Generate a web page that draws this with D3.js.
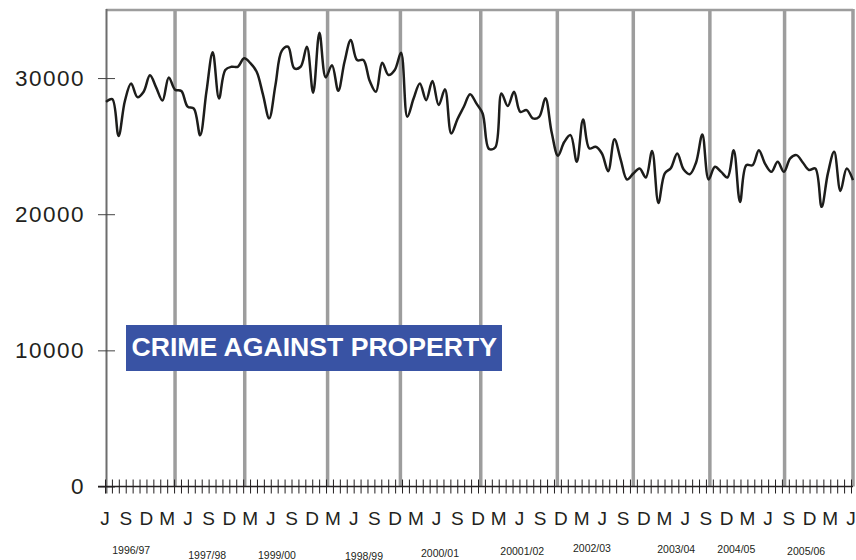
<!DOCTYPE html>
<html>
<head>
<meta charset="utf-8">
<script src="https://cdn.jsdelivr.net/npm/d3@7"></script>
<style>
  body { margin: 0; background: #fff; }
  text { font-family: "Liberation Sans", Arial, sans-serif; fill: #231f20; }
</style>
</head>
<body>
<div id="chart"></div>
<script>
// monthly crime against property, Apr 1996 - Mar 2006
const crimes = [
  28250, 28450, 25750, 28300, 29600, 28600, 29000, 30200, 29300, 28350,
  30050, 29150, 29050, 27900, 27750, 25800, 29000, 31900, 28500, 30600,
  30830, 30830, 31450, 31100, 30460, 28800, 27040, 29500, 32000, 32300,
  30710, 30830, 32300, 28920, 33330, 30050, 30950, 29070, 31200, 32790,
  31320, 31320, 29800, 28990, 31125, 30220, 30590, 31860, 27155, 28500,
  29610, 28380, 29780, 28015, 29170, 25930, 27000, 27890, 28820, 28140,
  27400, 24800, 24900, 28875, 27940, 28990, 27520, 27650, 27040, 27155,
  28510, 26000, 24300, 25300, 25810, 23850, 26960, 24830, 24950, 24460,
  23160, 25500, 24000, 22550, 22990, 23360, 22700, 24650, 20830, 22990,
  23400, 24460, 23300, 22940, 23800, 25860, 22550, 23480, 23110, 22700,
  24700, 20900, 23600, 23600, 24700, 23700, 23110, 23850, 23110, 24100,
  24340, 23800, 23250, 23360, 20540, 23000, 24580, 21710, 23360, 22500
];

// year boundaries, in months from the first point
const yearBreaks = [11, 22.1, 35.3, 46.9, 59.7, 71.9, 84, 96.2, 108.1, 119];

const yTicks = [0, 10000, 20000, 30000];
const monthLetters = ["J", "S", "D", "M"];
const axisMonths = 108;

const yearLabels = ["1996/97", "1997/98", "1999/00", "1998/99", "2000/01",
  "20001/02", "2002/03", "2003/04", "2004/05", "2005/06"];
// where each year label sits along the month axis, and its baseline
const yearLabelMonth = [3.8, 14.8, 24.9, 37.5, 48.5, 60.4, 70.5, 82.7, 91.4, 101.5];
const yearLabelY = [553.5, 558.5, 558.5, 559.5, 557, 555, 551.5, 552.5, 552.5, 555];

const title = "CRIME AGAINST PROPERTY";

let width = 856,
    height = 560,
    margin = ({ top: 10, right: 3, bottom: 73, left: 106 });

const svg = d3.select("#chart")
  .append("svg")
  .attr("width", width)
  .attr("height", height);

let x = d3.scaleLinear()
  .domain([0, crimes.length - 1])
  .range([margin.left, width - margin.right]);

// month ticks along the bottom
let xm = d3.scaleLinear()
  .domain([0, axisMonths])
  .range([105, 851]);

let y = d3.scaleLinear()
  .domain([0, 35000])
  .range([height - margin.bottom - 0.5, margin.top]);

// frame: top border
svg.append("line")
  .attr("x1", margin.left).attr("x2", width - margin.right)
  .attr("y1", y(35000)).attr("y2", y(35000))
  .attr("stroke", "#9d9d9d").attr("stroke-width", 2.5);

// year dividers
svg.selectAll(".divider")
  .data(yearBreaks)
  .join("line")
  .attr("class", "divider")
  .attr("x1", d => x(d)).attr("x2", d => x(d))
  .attr("y1", y(35000) - 1).attr("y2", y(0))
  .attr("stroke", "#9d9d9d")
  .attr("stroke-width", 3.5);

// left axis line
svg.append("line")
  .attr("x1", margin.left + 0.5).attr("x2", margin.left + 0.5)
  .attr("y1", y(35000) - 1).attr("y2", y(0) + 7)
  .attr("stroke", "#6d6d6d").attr("stroke-width", 2);

// y axis
svg.append("g")
  .attr("transform", `translate(${margin.left + 9},0)`)
  .call(d3.axisLeft(y).tickValues(yTicks).tickSize(17).tickPadding(13).tickFormat(d3.format("d")))
  .call(g => g.select(".domain").remove())
  .call(g => g.selectAll(".tick line").attr("stroke", "#444"))
  .call(g => g.selectAll(".tick text")
    .style("font-size", "22.5px")
    .style("letter-spacing", "1.5px")
    .attr("fill", "#231f20"));

// x axis baseline
svg.append("line")
  .attr("x1", 98).attr("x2", width - margin.right)
  .attr("y1", y(0)).attr("y2", y(0))
  .attr("stroke", "#231f20").attr("stroke-width", 1.5);

// month ticks
svg.append("g")
  .attr("transform", `translate(0,${y(0) - 7})`)
  .call(d3.axisBottom(xm).tickValues(d3.range(0, axisMonths + 1)).tickSize(14).tickFormat(""))
  .call(g => g.select(".domain").remove())
  .call(g => g.selectAll(".tick line").attr("stroke", "#231f20").attr("stroke-width", 1));

// quarter letters
svg.selectAll(".qlab")
  .data(d3.range(0, axisMonths + 1, 3))
  .join("text")
  .attr("class", "qlab")
  .attr("x", d => xm(d))
  .attr("y", 525)
  .attr("text-anchor", "middle")
  .style("font-size", "19px")
  .text(d => monthLetters[(d / 3) % 4]);

// financial year labels
svg.selectAll(".ylab")
  .data(yearLabels)
  .join("text")
  .attr("class", "ylab")
  .attr("x", (d, i) => xm(yearLabelMonth[i]))
  .attr("y", (d, i) => yearLabelY[i])
  .attr("text-anchor", "middle")
  .style("font-size", "10.5px")
  .text(d => d);

// the series
let line = d3.line()
  .x((d, i) => x(i))
  .y(d => y(d))
  .curve(d3.curveCatmullRom.alpha(0.5));

svg.append("path")
  .datum(crimes)
  .attr("fill", "none")
  .attr("stroke", "#1d1d1b")
  .attr("stroke-width", 2.5)
  .attr("stroke-linejoin", "round")
  .attr("d", line);

// title box
svg.append("rect")
  .attr("x", 126).attr("y", 325)
  .attr("width", 376).attr("height", 46)
  .attr("fill", "#3953a4");

svg.append("text")
  .attr("x", 131.5).attr("y", 356)
  .style("font-size", "26.6px")
  .style("font-weight", "bold")
  .style("fill", "#fff")
  .text(title);
</script>
</body>
</html>
